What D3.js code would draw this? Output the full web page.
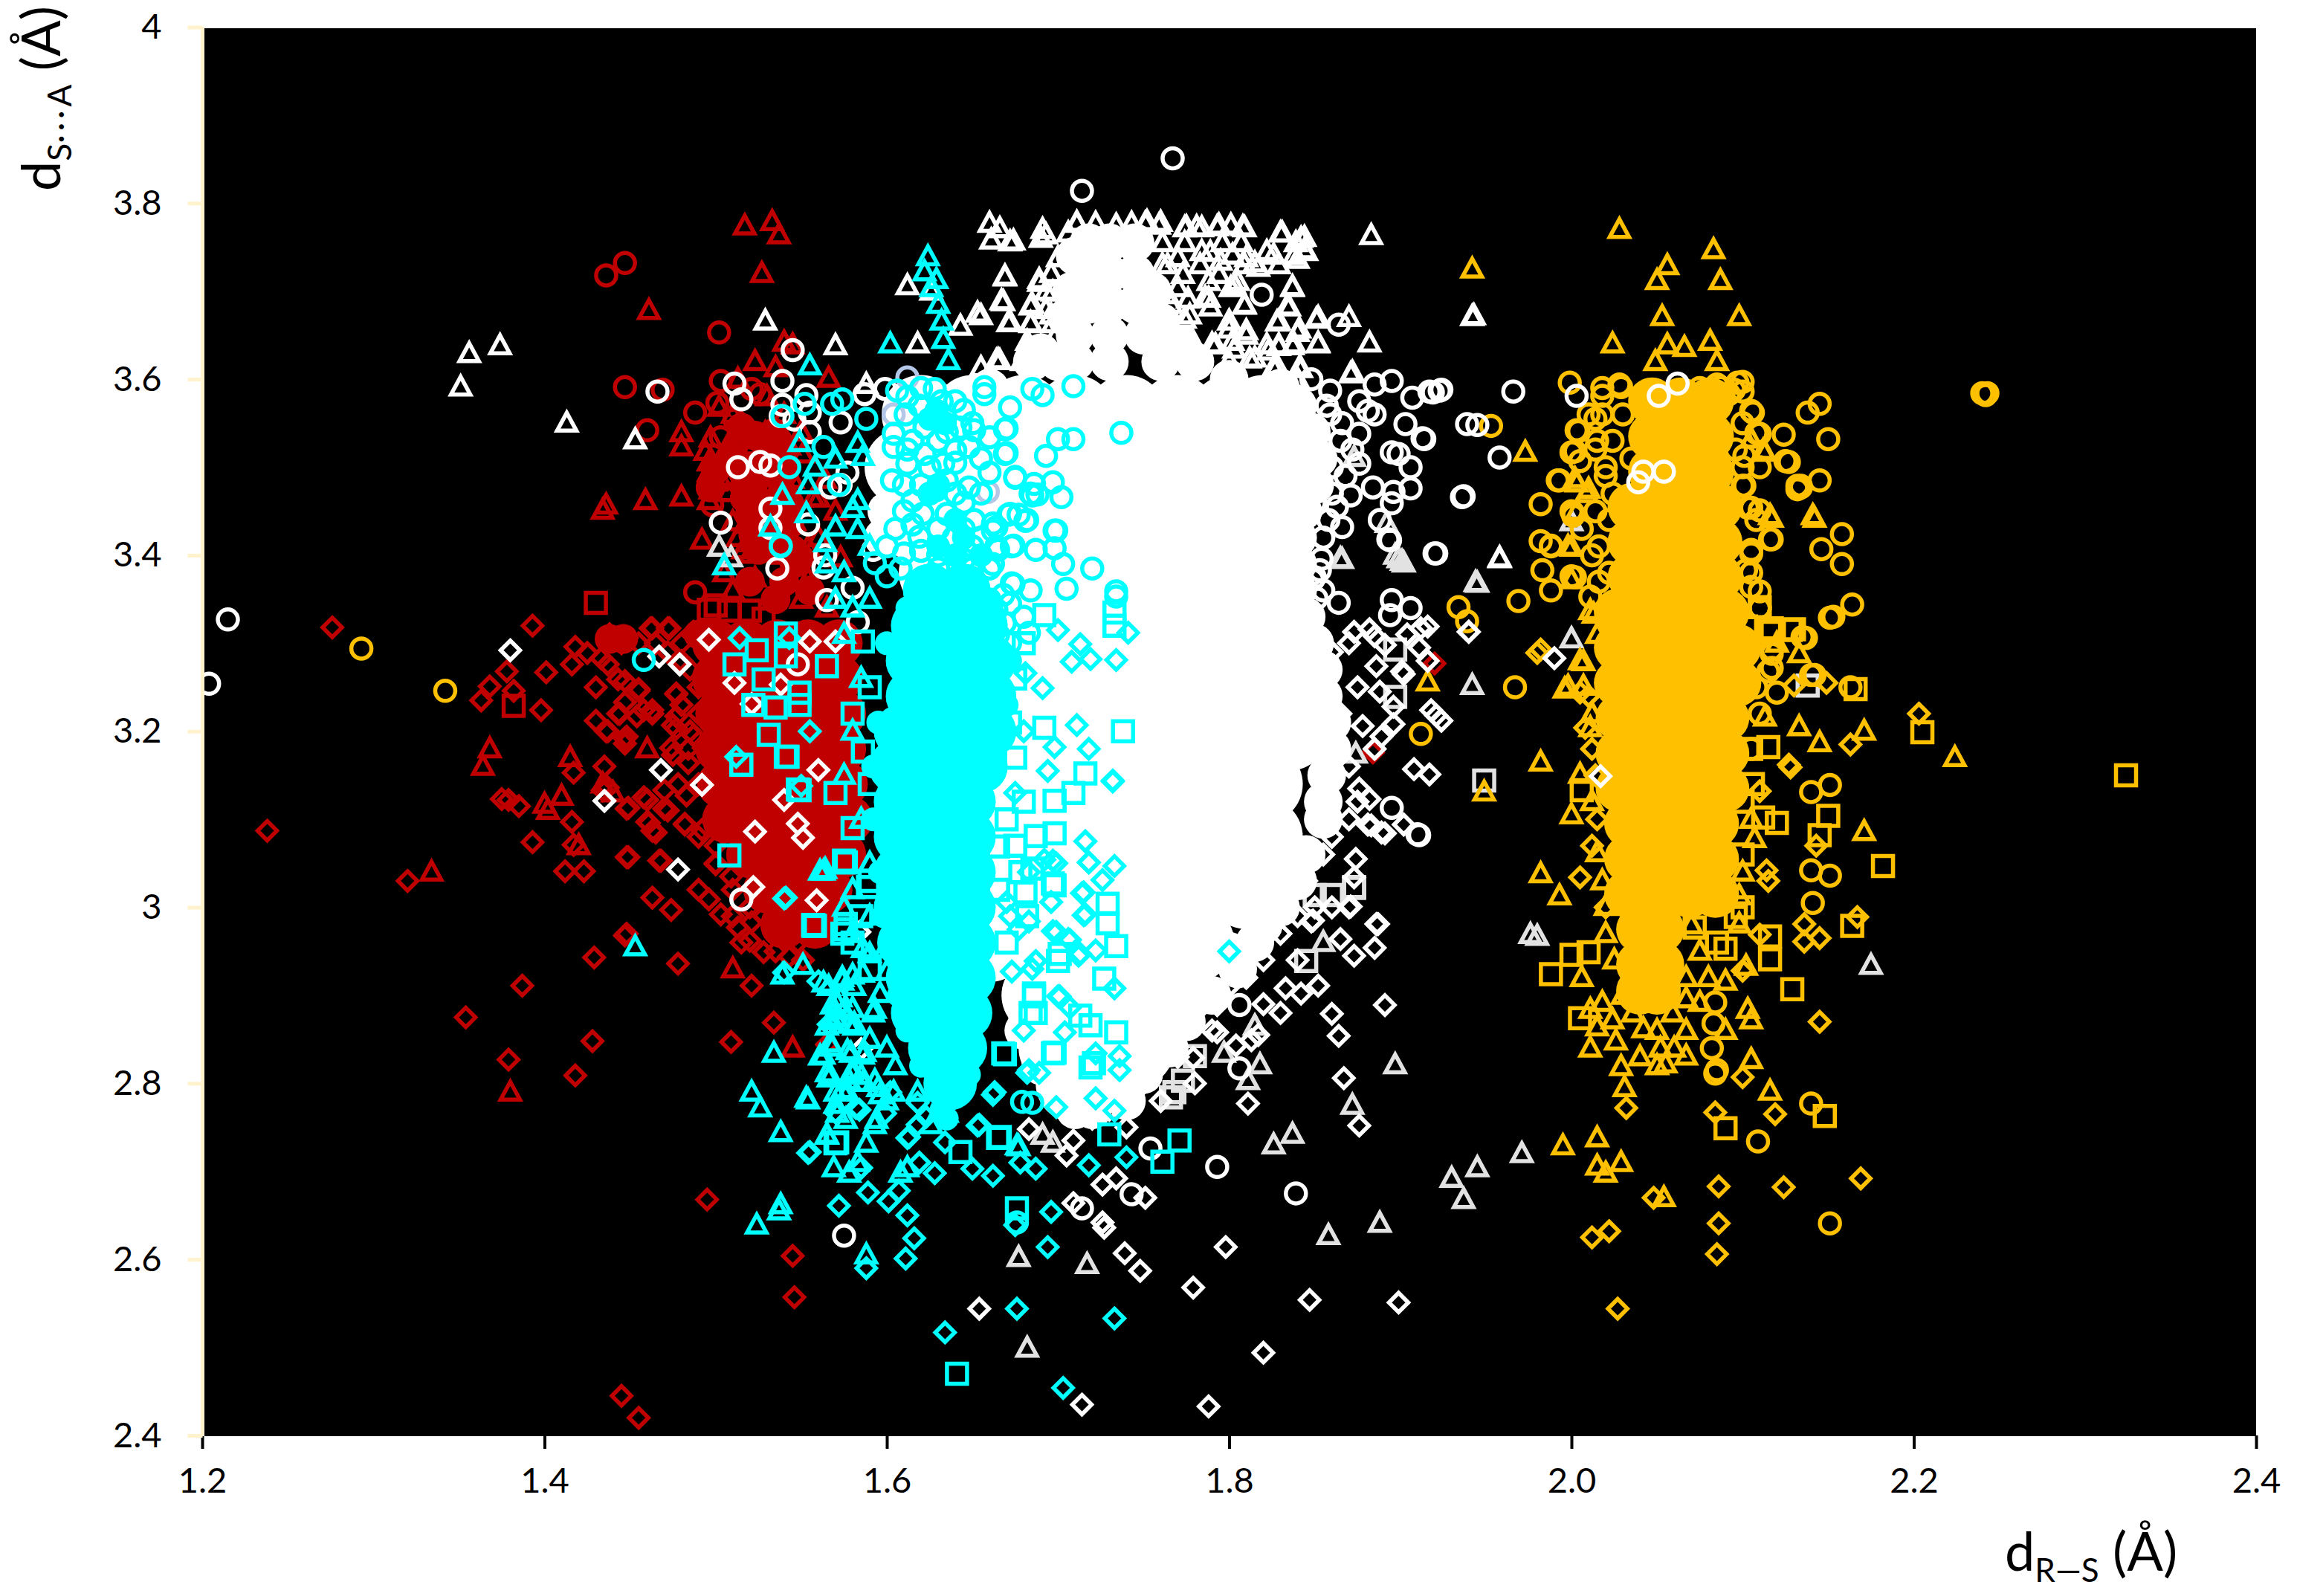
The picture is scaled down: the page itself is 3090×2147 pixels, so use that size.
<!DOCTYPE html>
<html><head><meta charset="utf-8">
<script src="https://cdn.jsdelivr.net/npm/d3@7/dist/d3.min.js"></script>
<style>html,body{margin:0;background:#fff}svg{display:block}text{font-family:Lato,"Noto Sans",sans-serif;fill:#000}</style>
</head><body><svg id="c" width="3090" height="2147"></svg>
<script>
const xTicks=[1.2,1.4,1.6,1.8,2.0,2.2,2.4];
const yTicks=[2.4,2.6,2.8,3,3.2,3.4,3.6,3.8,4];
// saturated areas, where overlapping markers merge into solid colour
const redCore=[[1.5,3.3],[1.518,3.3],[1.536,3.3],[1.554,3.3],[1.572,3.3],[1.5,3.26],[1.518,3.26],[1.536,3.26],[1.554,3.26],[1.572,3.26],[1.502,3.22],[1.52,3.22],[1.538,3.22],[1.556,3.22],[1.574,3.22],[1.502,3.18],[1.52,3.18],[1.538,3.18],[1.556,3.18],[1.574,3.18],[1.503,3.14],[1.521,3.14],[1.539,3.14],[1.557,3.14],[1.575,3.14],[1.506,3.1],[1.524,3.1],[1.542,3.1],[1.56,3.1],[1.578,3.1],[1.52,3.06],[1.538,3.06],[1.556,3.06],[1.574,3.06],[1.53,3.02],[1.548,3.02],[1.566,3.02],[1.54,2.98],[1.558,2.98]];
const redPatches=[[1.438,3.305],[1.446,3.305],[1.49,3.31],[1.523,3.536],[1.534,3.539],[1.519,3.48],[1.522,3.471],[1.52,3.447],[1.522,3.5],[1.529,3.494],[1.545,3.406],[1.546,3.391],[1.543,3.435],[1.525,3.406],[1.537,3.524],[1.5,3.497],[1.497,3.477],[1.549,3.397],[1.539,3.471],[1.54,3.494],[1.516,3.494],[1.517,3.465],[1.543,3.459],[1.522,3.423],[1.515,3.545],[1.53,3.515],[1.51,3.515],[1.53,3.45],[1.53,3.43],[1.535,3.41],[1.52,3.37],[1.54,3.37],[1.555,3.36],[1.535,3.35]];
const goldCore=[[2.047,3.575],[2.064,3.575],[2.081,3.575],[2.047,3.535],[2.064,3.535],[2.081,3.535],[2.047,3.495],[2.064,3.495],[2.081,3.495],[2.035,3.455],[2.052,3.455],[2.069,3.455],[2.086,3.455],[2.035,3.415],[2.052,3.415],[2.069,3.415],[2.086,3.415],[2.035,3.375],[2.052,3.375],[2.069,3.375],[2.086,3.375],[2.027,3.335],[2.045,3.335],[2.063,3.335],[2.081,3.335],[2.09,3.335],[2.027,3.295],[2.045,3.295],[2.063,3.295],[2.081,3.295],[2.097,3.295],[2.027,3.255],[2.045,3.255],[2.063,3.255],[2.081,3.255],[2.097,3.255],[2.028,3.215],[2.046,3.215],[2.064,3.215],[2.082,3.215],[2.09,3.215],[2.028,3.175],[2.046,3.175],[2.064,3.175],[2.082,3.175],[2.09,3.175],[2.028,3.135],[2.046,3.135],[2.064,3.135],[2.082,3.135],[2.09,3.135],[2.033,3.095],[2.051,3.095],[2.069,3.095],[2.084,3.095],[2.033,3.055],[2.051,3.055],[2.069,3.055],[2.084,3.055],[2.033,3.015],[2.051,3.015],[2.069,3.015],[2.084,3.015],[2.04,2.975],[2.052,2.975],[2.04,2.935],[2.052,2.935],[2.04,2.905],[2.05,2.905]];
const whiteCore=[[1.62,3.56],[1.65,3.56],[1.68,3.56],[1.71,3.56],[1.74,3.56],[1.77,3.56],[1.8,3.56],[1.82,3.56],[1.61,3.5],[1.64,3.5],[1.67,3.5],[1.7,3.5],[1.73,3.5],[1.76,3.5],[1.79,3.5],[1.82,3.5],[1.83,3.5],[1.615,3.44],[1.645,3.44],[1.675,3.44],[1.705,3.44],[1.735,3.44],[1.765,3.44],[1.795,3.44],[1.82,3.44],[1.63,3.38],[1.66,3.38],[1.69,3.38],[1.72,3.38],[1.75,3.38],[1.78,3.38],[1.81,3.38],[1.82,3.38],[1.64,3.32],[1.67,3.32],[1.7,3.32],[1.73,3.32],[1.76,3.32],[1.79,3.32],[1.825,3.32],[1.81,3.32],[1.64,3.26],[1.67,3.26],[1.7,3.26],[1.73,3.26],[1.76,3.26],[1.79,3.26],[1.82,3.26],[1.832,3.26],[1.64,3.2],[1.67,3.2],[1.7,3.2],[1.73,3.2],[1.76,3.2],[1.79,3.2],[1.82,3.2],[1.835,3.2],[1.64,3.14],[1.67,3.14],[1.7,3.14],[1.73,3.14],[1.76,3.14],[1.79,3.14],[1.82,3.14],[1.64,3.08],[1.67,3.08],[1.7,3.08],[1.73,3.08],[1.76,3.08],[1.79,3.08],[1.82,3.08],[1.64,3.02],[1.67,3.02],[1.7,3.02],[1.73,3.02],[1.76,3.02],[1.79,3.02],[1.81,3.02],[1.66,2.96],[1.69,2.96],[1.72,2.96],[1.75,2.96],[1.78,2.96],[1.69,2.9],[1.72,2.9],[1.75,2.9],[1.765,2.9],[1.7,2.84],[1.725,2.84],[1.745,2.84],[1.71,2.8]];
const whiteEdge=[[1.718,3.755],[1.73,3.755],[1.745,3.755],[1.718,3.72],[1.73,3.72],[1.745,3.72],[1.718,3.685],[1.73,3.685],[1.745,3.685],[1.71,3.65],[1.73,3.65],[1.75,3.65],[1.7,3.62],[1.71,3.62],[1.73,3.62],[1.76,3.62],[1.78,3.62],[1.69,3.63],[1.66,3.59],[1.8,3.6],[1.83,3.59],[1.84,3.57],[1.848,3.54],[1.852,3.51],[1.85,3.48],[1.843,3.45],[1.84,3.42],[1.84,3.39],[1.84,3.36],[1.845,3.33],[1.85,3.3],[1.855,3.27],[1.855,3.24],[1.86,3.21],[1.86,3.18],[1.857,3.15],[1.855,3.12],[1.855,3.1],[1.845,3.06],[1.84,3.03],[1.83,3],[1.82,2.98],[1.815,2.96],[1.805,2.93],[1.8,2.95],[1.79,2.9],[1.78,2.91],[1.775,2.87],[1.76,2.88],[1.765,2.84],[1.75,2.81],[1.74,2.78],[1.73,2.79],[1.72,2.77],[1.71,2.77],[1.7,2.79],[1.69,2.82],[1.68,2.86],[1.6,3.45],[1.598,3.42],[1.71,3.74],[1.708,3.7],[1.705,3.67],[1.755,3.7],[1.76,3.665],[1.77,3.64],[1.685,3.62]];
const cyanCore=[[1.625,3.36],[1.645,3.36],[1.618,3.32],[1.638,3.32],[1.655,3.32],[1.615,3.28],[1.637,3.28],[1.66,3.28],[1.615,3.24],[1.637,3.24],[1.66,3.24],[1.608,3.2],[1.628,3.2],[1.648,3.2],[1.66,3.2],[1.605,3.16],[1.625,3.16],[1.645,3.16],[1.655,3.16],[1.608,3.12],[1.628,3.12],[1.648,3.12],[1.608,3.08],[1.628,3.08],[1.648,3.08],[1.608,3.04],[1.628,3.04],[1.648,3.04],[1.608,3.0],[1.628,3.0],[1.648,3.0],[1.61,2.96],[1.63,2.96],[1.648,2.96],[1.615,2.92],[1.632,2.92],[1.648,2.92],[1.618,2.88],[1.632,2.88],[1.646,2.88],[1.628,2.84],[1.643,2.84],[1.637,2.8]];
const cyanPatches=[[1.629,3.564],[1.625,3.555],[1.634,3.55],[1.63,3.48],[1.625,3.47],[1.64,3.44],[1.645,3.42],[1.63,3.41],[1.655,3.4],[1.64,3.4],[1.612,3.34],[1.6,3.3],[1.595,3.21],[1.592,3.16],[1.592,3.1],[1.596,3.04],[1.598,2.99],[1.604,2.95],[1.607,2.9],[1.612,2.86],[1.62,2.82],[1.648,2.81],[1.632,2.77],[1.66,3.35],[1.672,3.28],[1.67,3.23],[1.635,2.76]];

const redDiamonds=[[1.393,3.32],[1.418,3.296],[1.425,3.289],[1.416,3.276],[1.401,3.267],[1.378,3.268],[1.368,3.251],[1.382,3.246],[1.363,3.235],[1.398,3.224],[1.433,3.283],[1.438,3.31],[1.447,3.306],[1.462,3.317],[1.472,3.317],[1.43,3.25],[1.443,3.259],[1.455,3.246],[1.447,3.233],[1.443,3.22],[1.43,3.212],[1.436,3.2],[1.448,3.194],[1.447,3.186],[1.458,3.224],[1.463,3.22],[1.477,3.242],[1.475,3.207],[1.475,3.173],[1.435,3.16],[1.417,3.153],[1.375,3.123],[1.379,3.122],[1.385,3.115],[1.437,3.136],[1.458,3.125],[1.448,3.112],[1.47,3.112],[1.46,3.097],[1.463,3.087],[1.482,3.095],[1.416,3.097],[1.417,3.071],[1.393,3.074],[1.238,3.087],[1.32,3.03],[1.448,3.057],[1.467,3.053],[1.412,3.041],[1.423,3.041],[1.463,3.011],[1.474,2.997],[1.49,3.02],[1.496,3.009],[1.503,2.992],[1.513,2.977],[1.521,2.983],[1.528,2.99],[1.54,2.983],[1.52,2.962],[1.528,2.949],[1.54,2.962],[1.543,2.944],[1.551,2.94],[1.447,2.968],[1.448,2.97],[1.429,2.943],[1.478,2.936],[1.521,2.911],[1.387,2.911],[1.354,2.875],[1.428,2.848],[1.509,2.847],[1.534,2.869],[1.379,2.827],[1.418,2.809],[1.565,2.844],[1.495,2.668],[1.545,2.604],[1.546,2.557],[1.445,2.445],[1.455,2.42],[1.276,3.318],[1.92,3.277],[1.884,3.176],[1.48,3.28],[1.485,3.2],[1.478,3.14],[1.49,3.08],[1.5,3.05],[1.438,3.31],[1.448,3.306],[1.463,3.317],[1.473,3.317],[1.487,3.313],[1.437,3.276],[1.447,3.257],[1.455,3.248],[1.444,3.22],[1.437,3.2],[1.447,3.192],[1.454,3.217],[1.463,3.224],[1.477,3.243],[1.477,3.217],[1.477,3.203],[1.474,3.181],[1.487,3.195],[1.493,3.181],[1.484,3.164],[1.47,3.133],[1.46,3.122],[1.449,3.113],[1.472,3.11],[1.483,3.127],[1.461,3.096],[1.465,3.085],[1.482,3.094],[1.449,3.057],[1.468,3.053],[1.5,3.049],[1.509,3.035],[1.492,3.088],[1.434,3.133],[1.445,3.3],[1.455,3.3],[1.465,3.3],[1.48,3.3],[1.472,3.29],[1.485,3.27],[1.48,3.23],[1.49,3.25],[1.49,3.22],[1.484,3.18],[1.49,3.14],[1.5,3.07],[1.51,3.02],[1.52,3.0],[1.51,2.99],[1.515,2.96],[1.535,2.95],[1.548,2.96],[1.553,2.98]];
const redTriangles=[[1.517,3.774],[1.533,3.779],[1.537,3.764],[1.527,3.72],[1.461,3.678],[1.54,3.642],[1.545,3.639],[1.523,3.62],[1.535,3.613],[1.566,3.601],[1.513,3.6],[1.502,3.568],[1.48,3.539],[1.48,3.523],[1.497,3.533],[1.494,3.518],[1.497,3.509],[1.496,3.494],[1.497,3.474],[1.496,3.462],[1.48,3.466],[1.459,3.462],[1.436,3.457],[1.434,3.451],[1.492,3.417],[1.52,3.456],[1.517,3.435],[1.521,3.414],[1.52,3.401],[1.523,3.374],[1.54,3.376],[1.554,3.373],[1.573,3.397],[1.546,3.412],[1.554,3.409],[1.542,3.444],[1.56,3.465],[1.522,3.524],[1.507,3.524],[1.529,3.539],[1.537,3.533],[1.522,3.494],[1.529,3.488],[1.514,3.486],[1.545,3.486],[1.539,3.494],[1.368,3.18],[1.364,3.16],[1.402,3.11],[1.415,3.17],[1.46,3.18],[1.38,2.79],[1.334,3.04],[1.51,2.93],[1.42,3.07],[1.4,3.117],[1.41,3.126],[1.434,3.14],[1.44,3.13],[1.545,2.84],[1.507,3.471],[1.5,3.483],[1.496,3.506],[1.543,3.524],[1.551,3.515],[1.557,3.465],[1.564,3.486],[1.546,3.438],[1.529,3.406],[1.537,3.4],[1.516,3.406],[1.513,3.42],[1.51,3.438],[1.528,3.438],[1.51,3.56],[1.53,3.58],[1.54,3.56],[1.55,3.54],[1.505,3.38],[1.51,3.36],[1.56,3.42],[1.57,3.45],[1.55,3.35],[1.565,3.34]];
const redCircles=[[1.447,3.732],[1.436,3.718],[1.502,3.653],[1.447,3.591],[1.469,3.588],[1.46,3.542],[1.488,3.562],[1.503,3.598],[1.501,3.573],[1.511,3.554],[1.503,3.534],[1.521,3.589],[1.526,3.583],[1.498,3.457],[1.505,3.486],[1.488,3.358]];
const redSquares=[[1.43,3.346],[1.382,3.229],[1.5,3.343],[1.496,3.338],[1.508,3.337],[1.52,3.337],[1.528,3.328]];

const greyTriangles=[[1.892,3.436],[1.873,3.511],[1.866,3.395],[1.902,3.391],[1.899,3.396],[1.945,3.368],[1.865,3.396],[1.897,3.4],[1.901,3.393],[1.944,3.369],[1.942,3.252],[1.874,3.174],[1.897,2.821],[1.872,2.775],[1.826,2.73],[1.837,2.742],[1.93,2.692],[1.945,2.704],[1.937,2.668],[1.888,2.641],[1.858,2.627],[1.818,2.821],[1.811,2.803],[1.677,2.602],[1.717,2.594],[1.682,2.499],[1.691,2.741],[1.697,2.732],[1.855,2.96],[1.815,2.865],[1.797,2.834],[1.502,3.409],[1.509,3.397],[1.976,2.969],[1.98,2.967],[2.175,2.934],[1.971,2.72],[2,3.305],[2,3.438]];
const greySquares=[[1.897,3.293],[1.897,3.239],[1.949,3.144],[1.873,3.023],[1.86,3.014],[1.85,3.014],[1.766,2.784],[1.768,2.79],[1.678,2.865],[1.68,2.87],[1.873,3.022],[1.78,2.831],[1.773,2.803],[1.845,2.939],[2.138,3.252]];

const goldTriangles=[[2.028,3.77],[1.942,3.725],[2.056,3.729],[2.05,3.712],[2.083,3.747],[2.087,3.712],[2.053,3.671],[2.098,3.671],[2.024,3.64],[2.056,3.639],[2.066,3.636],[2.081,3.643],[2.085,3.62],[2.049,3.62],[1.973,3.517],[2.112,3.519],[2.116,3.445],[2.141,3.445],[2.002,3.487],[2.01,3.475],[2.003,3.45],[1.998,3.41],[2.011,3.337],[2.005,3.28],[1.996,3.248],[1.916,3.256],[2.133,3.205],[2.145,3.187],[2.171,3.2],[2.224,3.17],[2.113,3.216],[1.982,3.165],[1.949,3.131],[2.005,3.151],[2,3.105],[2.011,3.204],[2.171,3.086],[1.982,3.038],[1.993,3.013],[2.018,3.03],[2.015,3.062],[2.02,3.001],[2.107,3.078],[2.098,3.013],[2.098,2.981],[2.006,2.92],[2.08,2.92],[2.09,2.916],[2.067,2.92],[2.102,2.933],[2.011,2.884],[2.018,2.892],[2.015,2.864],[2.024,2.872],[2.011,2.84],[2.026,2.848],[2.059,2.88],[2.067,2.86],[2.075,2.892],[2.067,2.896],[2.105,2.827],[2.052,2.84],[2.067,2.831],[2.103,2.884],[2.105,2.872],[2.029,2.819],[2.031,2.795],[2.116,2.791],[1.995,2.729],[2.015,2.738],[2.029,2.71],[2.015,2.706],[2.02,2.698],[2.054,2.67],[2.03,2.9],[2.042,2.862],[2.05,2.86],[2.036,2.88],[2.06,2.84],[2.04,2.83],[2.05,2.82],[2.055,2.822],[2.09,2.86],[2.12,3.3],[2.003,3.482],[2.009,3.47],[2,3.409],[2,3.372],[2.013,3.333],[2.007,3.279],[2.105,3.532],[2.113,3.517],[2.117,3.442],[2.142,3.442],[2.133,3.288],[1.998,3.251],[2.007,3.251],[2.015,3.31],[2.012,3.22],[2.012,3.12],[2.105,3.1],[2.1,3.04],[2.02,2.97],[2.025,2.94],[2.075,2.95],[2.07,2.98]];
const goldCircles=[[1.999,3.596],[2.018,3.59],[2.028,3.594],[2.138,3.562],[2.145,3.572],[2.124,3.537],[2.15,3.532],[2.125,3.507],[2.132,3.479],[2.132,3.475],[2.145,3.485],[2.108,3.539],[2.105,3.564],[2.097,3.596],[2.085,3.594],[2.075,3.59],[2.003,3.542],[2,3.517],[1.992,3.485],[1.982,3.458],[2,3.45],[1.982,3.416],[1.988,3.41],[1.983,3.383],[2,3.376],[1.988,3.36],[1.969,3.348],[1.934,3.341],[1.939,3.325],[1.953,3.547],[1.967,3.25],[1.912,3.197],[2.011,3.353],[2.158,3.424],[2.146,3.407],[2.158,3.39],[2.116,3.418],[2.103,3.454],[2.1,3.479],[2.105,3.406],[2.164,3.344],[2.151,3.329],[2.135,3.307],[2.117,3.293],[2.115,3.268],[2.14,3.264],[2.163,3.25],[2.12,3.244],[2.14,3.131],[2.151,3.139],[2.14,3.042],[2.151,3.036],[2.141,3.005],[2.14,2.777],[2.109,2.734],[2.151,2.641],[2.083,2.868],[2.082,2.84],[2.084,2.811],[2.085,2.815],[2.084,2.892],[2.24,3.584],[2.242,3.582],[2.243,3.584],[1.293,3.294],[1.342,3.246],[2.01,3.56],[2.014,3.52],[2.02,3.49],[2.11,3.5],[2.108,3.44],[2.105,3.38],[2.11,3.34],[2.006,3.43],[2.012,3.4],[2.018,3.581],[2.029,3.591],[2.075,3.579],[2.087,3.591],[2.1,3.597],[2.095,3.588],[2.1,3.586],[2.092,3.583],[2.106,3.562],[2.11,3.538],[2.127,3.506],[2.134,3.477],[2.134,3.479],[2.014,3.555],[2.004,3.541],[2.002,3.518],[2.005,3.507],[1.993,3.485],[2.001,3.448],[2.001,3.445],[1.988,3.411],[2.002,3.375],[2.101,3.513],[2.101,3.479],[2.105,3.454],[2.11,3.451],[2.117,3.418],[2.105,3.402],[2.102,3.383],[2.105,3.364],[2.11,3.359],[2.11,3.34],[2.137,3.306],[2.153,3.33],[2.142,3.264],[2.117,3.272],[2.117,3.288],[2.018,3.56],[2.024,3.53],[2.015,3.53],[2.02,3.5],[2.03,3.56],[2.035,3.51],[2.1,3.55],[2.096,3.52],[2.1,3.5],[2.024,3.47],[2.014,3.45],[2.022,3.44],[2.016,3.41],[2.022,3.38],[2.016,3.37],[2.108,3.25],[2.11,3.22],[2.105,3.18]];
const goldDiamonds=[[2.203,3.22],[2.163,3.185],[2.127,3.162],[2.128,3.159],[2.11,3.132],[2.143,3.07],[2.114,3.042],[2.115,3.03],[2.136,2.981],[2.145,2.965],[2.136,2.961],[2.167,2.989],[2.1,2.807],[2.119,2.765],[2.084,2.767],[2.145,2.87],[2.032,2.772],[2.005,3.034],[1.98,3.289],[1.982,3.293],[2.149,3.255],[2.13,3.252],[2.169,2.692],[2.124,2.682],[2.086,2.683],[2.048,2.67],[2.086,2.641],[2.012,2.625],[2.022,2.632],[2.085,2.606],[2.027,2.544],[2.005,3.244],[2.11,2.969],[2.1,2.928],[2.008,3.204],[2.012,3.18],[2.015,3.1],[2.01,3.24],[2.014,3.15],[2.012,3.07],[2.02,3.0]];
const goldSquares=[[2.324,3.15],[2.205,3.199],[2.182,3.047],[2.166,3.248],[2.128,3.315],[2.117,3.317],[2.11,3.341],[2.115,3.182],[2.112,3.102],[2.12,3.096],[2.15,3.104],[2.145,3.082],[2.164,2.979],[2.116,2.967],[2.116,2.941],[2.129,2.907],[2.148,2.763],[2.09,2.749],[1.988,2.924],[2,2.946],[2.01,2.949],[2.005,2.874],[2.006,3.133],[2.09,2.953],[2.096,2.989],[2.072,2.977],[2.054,2.912],[2.105,3.18],[2.1,3.12],[2.1,3.06],[2.13,3.316],[2.102,3.319],[2.116,3.313],[2.106,3.14],[2.1,3.0],[2.085,2.96]];

const whiteCircles=[[1.545,3.633],[1.539,3.598],[1.511,3.595],[1.515,3.577],[1.539,3.571],[1.553,3.582],[1.538,3.558],[1.555,3.562],[1.555,3.54],[1.573,3.551],[1.546,3.554],[1.466,3.586],[1.513,3.5],[1.526,3.506],[1.532,3.502],[1.503,3.437],[1.532,3.453],[1.532,3.431],[1.554,3.435],[1.536,3.385],[1.564,3.4],[1.563,3.386],[1.567,3.477],[1.573,3.48],[1.577,3.494],[1.58,3.363],[1.599,3.589],[1.587,3.583],[1.592,3.406],[1.204,3.254],[1.215,3.327],[1.714,3.814],[1.767,3.851],[1.515,3.009],[1.565,3.349],[1.548,3.276],[1.583,3.324],[1.848,3.6],[1.859,3.587],[1.876,3.575],[1.885,3.594],[1.895,3.598],[1.907,3.579],[1.923,3.587],[1.919,3.585],[1.859,3.56],[1.881,3.564],[1.885,3.56],[1.903,3.549],[1.914,3.532],[1.876,3.538],[1.895,3.517],[1.899,3.515],[1.906,3.5],[1.876,3.504],[1.884,3.477],[1.906,3.476],[1.896,3.472],[1.937,3.467],[1.871,3.468],[1.895,3.459],[1.888,3.44],[1.866,3.432],[1.921,3.402],[1.894,3.417],[1.863,3.455],[1.853,3.383],[1.849,3.372],[1.864,3.346],[1.895,3.349],[1.906,3.34],[1.894,3.332],[1.939,3.549],[1.864,3.662],[1.819,3.696],[1.893,3.418],[1.92,3.402],[1.854,3.396],[1.85,3.375],[1.851,3.351],[1.895,3.113],[1.91,3.083],[1.793,2.705],[1.839,2.675],[1.743,2.674],[1.754,2.726],[1.806,2.817],[1.806,2.889],[1.575,2.627],[1.714,2.658],[2.051,3.581],[2.062,3.595],[2.042,3.495],[2.054,3.495],[2.039,3.483],[2.003,3.581],[1.966,3.586],[1.924,3.588],[1.917,3.586],[1.945,3.548],[1.913,3.533],[1.958,3.511],[1.936,3.466],[1.911,3.082],[1.86,3.5],[1.865,3.53],[1.85,3.46],[1.855,3.42],[1.857,3.57],[1.866,3.55],[1.872,3.52],[1.868,3.49],[1.86,3.47],[1.858,3.44],[1.855,3.36]];
const whiteTriangles=[[1.883,3.763],[1.66,3.777],[1.666,3.771],[1.661,3.758],[1.672,3.756],[1.69,3.76],[1.691,3.77],[1.711,3.777],[1.722,3.777],[1.734,3.775],[1.743,3.777],[1.751,3.777],[1.759,3.775],[1.775,3.773],[1.781,3.773],[1.793,3.773],[1.801,3.775],[1.808,3.773],[1.83,3.766],[1.842,3.76],[1.822,3.745],[1.838,3.741],[1.845,3.745],[1.669,3.717],[1.612,3.706],[1.626,3.7],[1.689,3.713],[1.696,3.72],[1.693,3.7],[1.667,3.689],[1.653,3.675],[1.655,3.672],[1.643,3.66],[1.671,3.664],[1.684,3.683],[1.684,3.664],[1.682,3.643],[1.696,3.673],[1.698,3.647],[1.664,3.621],[1.666,3.621],[1.679,3.621],[1.655,3.613],[1.618,3.64],[1.57,3.638],[1.529,3.666],[1.588,3.594],[1.761,3.73],[1.77,3.738],[1.784,3.745],[1.795,3.734],[1.809,3.73],[1.829,3.73],[1.815,3.732],[1.837,3.704],[1.805,3.711],[1.788,3.711],[1.77,3.704],[1.788,3.692],[1.801,3.704],[1.809,3.685],[1.834,3.683],[1.829,3.666],[1.851,3.668],[1.87,3.67],[1.84,3.653],[1.8,3.666],[1.81,3.655],[1.852,3.641],[1.882,3.641],[1.829,3.639],[1.837,3.638],[1.822,3.639],[1.802,3.643],[1.792,3.639],[1.768,3.643],[1.841,3.613],[1.871,3.606],[1.826,3.613],[1.815,3.624],[1.766,3.685],[1.759,3.666],[1.777,3.673],[1.943,3.672],[1.413,3.55],[1.453,3.531],[1.351,3.591],[1.356,3.629],[1.374,3.638],[1.958,3.397],[1.942,3.671],[1.958,3.396],[1.8,3.62],[1.78,3.62],[1.76,3.62],[1.84,3.6],[1.794,3.775],[1.809,3.772],[1.831,3.766],[1.839,3.755],[1.844,3.761],[1.844,3.747],[1.84,3.736],[1.826,3.741],[1.817,3.727],[1.81,3.738],[1.802,3.741],[1.789,3.744],[1.784,3.772],[1.774,3.772],[1.76,3.778],[1.752,3.779],[1.837,3.705],[1.803,3.707],[1.809,3.684],[1.786,3.693],[1.789,3.682],[1.835,3.682],[1.828,3.665],[1.841,3.657],[1.852,3.67],[1.852,3.64],[1.838,3.64],[1.829,3.637],[1.81,3.65],[1.8,3.657],[1.823,3.632],[1.842,3.612],[1.828,3.615],[1.872,3.608],[1.774,3.668],[1.761,3.657],[1.778,3.646],[1.79,3.64],[1.803,3.634],[1.812,3.623],[1.773,3.719],[1.764,3.73],[1.783,3.73],[1.794,3.719],[1.761,3.755],[1.774,3.755],[1.796,3.755],[1.807,3.755],[1.764,3.696],[1.776,3.691],[1.693,3.764],[1.674,3.757],[1.669,3.716],[1.668,3.688],[1.672,3.665],[1.685,3.685],[1.689,3.71],[1.7,3.738],[1.684,3.663],[1.683,3.639],[1.665,3.622],[1.679,3.62],[1.706,3.766],[1.711,3.778],[1.697,3.699],[1.693,3.679],[1.697,3.663],[1.69,3.637]];
const whiteDiamonds=[[1.38,3.292],[1.467,3.285],[1.479,3.276],[1.496,3.304],[1.511,3.255],[1.521,3.231],[1.468,3.156],[1.492,3.139],[1.435,3.121],[1.478,3.043],[1.523,3.086],[1.522,3.023],[1.559,3.008],[1.54,3.122],[1.548,3.095],[1.551,3.079],[1.56,3.156],[1.538,3.253],[1.555,3.302],[1.57,3.302],[1.584,2.972],[1.585,2.839],[1.873,3.313],[1.882,3.316],[1.885,3.308],[1.891,3.298],[1.916,3.319],[1.912,3.317],[1.904,3.31],[1.911,3.295],[1.916,3.28],[1.886,3.274],[1.902,3.265],[1.901,3.268],[1.888,3.245],[1.896,3.228],[1.896,3.208],[1.918,3.224],[1.924,3.212],[1.921,3.218],[1.889,3.194],[1.885,3.18],[1.878,3.206],[1.876,3.135],[1.882,3.123],[1.908,3.157],[1.917,3.151],[1.881,3.094],[1.889,3.085],[1.902,3.094],[1.874,3.055],[1.873,3.034],[1.87,3],[1.886,2.981],[1.848,2.984],[1.94,3.313],[1.99,3.283],[1.891,3.084],[1.883,3.093],[1.871,3.001],[1.887,2.981],[1.885,2.954],[1.873,2.945],[1.865,2.964],[1.849,2.985],[1.852,2.911],[1.842,2.902],[1.833,2.908],[1.83,2.88],[1.86,2.879],[1.864,2.854],[1.891,2.889],[1.867,2.806],[1.876,2.752],[1.811,2.777],[1.793,2.889],[1.804,2.843],[1.813,2.849],[1.817,2.855],[1.793,2.858],[1.779,2.829],[1.709,2.735],[1.705,2.718],[1.683,2.748],[1.726,2.685],[1.734,2.692],[1.751,2.67],[1.709,2.664],[1.726,2.642],[1.727,2.636],[1.739,2.607],[1.748,2.587],[1.779,2.568],[1.798,2.614],[1.847,2.554],[1.899,2.551],[1.82,2.494],[1.788,2.433],[1.714,2.435],[1.654,2.544],[2.017,3.149],[1.94,3.313],[1.86,3.29],[1.865,3.22],[1.87,3.16],[1.855,3.06],[1.845,3.03],[1.83,2.97],[1.81,2.92],[1.78,2.88],[1.76,2.84],[1.74,2.79],[1.72,2.76],[1.74,2.75],[1.76,2.78],[1.78,2.8],[1.82,2.89],[1.84,2.94],[1.86,3.0],[1.87,3.1],[1.87,3.3],[1.875,3.25],[1.875,3.12],[1.86,3.08],[1.85,3.0],[1.84,2.99],[1.82,2.94],[1.8,2.91],[1.79,2.86],[1.77,2.83],[1.75,2.8],[1.73,2.77]];

const lavenderCircles=[[1.659,3.472],[1.612,3.602],[1.604,3.56]];

const cyanCircles=[[1.657,3.591],[1.657,3.583],[1.709,3.592],[1.685,3.589],[1.691,3.582],[1.672,3.568],[1.669,3.543],[1.64,3.575],[1.628,3.589],[1.619,3.57],[1.629,3.564],[1.737,3.539],[1.709,3.532],[1.7,3.532],[1.693,3.513],[1.669,3.515],[1.651,3.542],[1.66,3.534],[1.648,3.523],[1.64,3.519],[1.633,3.504],[1.66,3.494],[1.675,3.489],[1.686,3.481],[1.697,3.483],[1.685,3.468],[1.702,3.466],[1.648,3.477],[1.612,3.504],[1.603,3.485],[1.604,3.523],[1.604,3.538],[1.611,3.56],[1.606,3.587],[1.574,3.577],[1.568,3.572],[1.552,3.572],[1.539,3.558],[1.588,3.555],[1.563,3.523],[1.543,3.5],[1.538,3.411],[1.672,3.447],[1.682,3.44],[1.698,3.428],[1.687,3.406],[1.698,3.408],[1.673,3.41],[1.703,3.39],[1.72,3.385],[1.705,3.362],[1.673,3.368],[1.734,3.359],[1.734,3.353],[1.662,3.436],[1.651,3.44],[1.635,3.447],[1.621,3.447],[1.615,3.462],[1.629,3.474],[1.619,3.421],[1.61,3.402],[1.6,3.376],[1.593,3.391],[1.669,3.323],[1.683,3.312],[1.664,3.338],[1.662,3.428],[1.665,3.406],[1.639,3.42],[1.65,3.41],[1.63,3.4],[1.645,3.395],[1.66,3.385],[1.64,3.47],[1.625,3.5],[1.615,3.53],[1.63,3.53],[1.62,3.48],[1.643,3.545],[1.458,3.281],[1.679,2.779],[1.685,2.778],[1.676,2.642],[1.538,3.41],[1.572,3.48],[1.684,3.36],[1.68,3.33],[1.67,3.544],[1.67,3.516],[1.675,3.488],[1.684,3.47],[1.688,3.469],[1.671,3.446],[1.677,3.446],[1.681,3.439],[1.699,3.428],[1.674,3.411],[1.664,3.432],[1.664,3.41],[1.674,3.367],[1.612,3.58],[1.62,3.59],[1.632,3.575],[1.645,3.565],[1.65,3.55],[1.635,3.54],[1.622,3.545],[1.612,3.52],[1.622,3.515],[1.64,3.505],[1.655,3.51],[1.61,3.48],[1.625,3.47],[1.635,3.485],[1.645,3.46],[1.655,3.47],[1.61,3.45],[1.605,3.43],[1.615,3.435],[1.63,3.43],[1.645,3.43],[1.655,3.42],[1.62,3.405],[1.6,3.41],[1.608,3.385],[1.63,3.385],[1.65,3.385],[1.668,3.355],[1.672,3.345],[1.665,3.31],[1.672,3.3],[1.662,3.39]];
const cyanTriangles=[[1.624,3.739],[1.622,3.722],[1.629,3.713],[1.626,3.704],[1.63,3.685],[1.632,3.666],[1.633,3.645],[1.602,3.64],[1.636,3.621],[1.555,3.615],[1.549,3.528],[1.57,3.509],[1.558,3.5],[1.554,3.48],[1.539,3.468],[1.553,3.447],[1.532,3.432],[1.57,3.432],[1.564,3.414],[1.583,3.429],[1.583,3.462],[1.58,3.453],[1.583,3.527],[1.586,3.512],[1.505,3.388],[1.534,2.834],[1.521,2.79],[1.526,2.772],[1.554,2.781],[1.538,2.744],[1.538,2.662],[1.537,2.655],[1.524,2.639],[1.588,2.605],[1.561,2.831],[1.565,2.865],[1.568,2.889],[1.567,2.809],[1.57,2.79],[1.578,2.803],[1.581,2.865],[1.579,2.834],[1.575,2.883],[1.563,2.914],[1.574,2.92],[1.571,2.766],[1.565,2.741],[1.593,2.753],[1.588,2.732],[1.569,2.704],[1.578,2.698],[1.583,2.71],[1.608,2.698],[1.612,2.704],[1.596,2.787],[1.604,2.79],[1.618,2.79],[1.563,3.041],[1.676,2.729],[1.635,2.766],[1.626,2.753],[1.585,2.809],[1.593,2.803],[1.453,2.955],[1.539,2.923],[1.551,2.934],[1.561,3.041],[1.553,2.783],[1.568,2.841],[1.578,2.867],[1.57,2.875],[1.586,2.832],[1.58,2.811],[1.574,2.793],[1.566,2.806],[1.593,2.884],[1.58,2.923],[1.573,2.897],[1.566,2.91],[1.586,2.953],[1.59,2.99],[1.58,3.02],[1.585,3.1],[1.575,3.38],[1.59,3.35],[1.57,3.35],[1.59,3.41],[1.6,2.84],[1.59,2.85],[1.605,2.82],[1.6,2.78],[1.564,3.043],[1.571,2.891],[1.58,2.885],[1.592,2.88],[1.568,2.871],[1.581,2.868],[1.567,2.846],[1.577,2.837],[1.587,2.835],[1.563,2.832],[1.565,2.812],[1.58,2.815],[1.586,2.801],[1.595,2.795],[1.577,2.79],[1.57,2.776],[1.594,2.759],[1.576,2.759],[1.565,2.742],[1.677,2.728],[1.581,2.91],[1.586,2.925],[1.574,2.916],[1.596,2.902],[1.6,2.927],[1.59,2.947],[1.599,2.953],[1.58,2.97],[1.575,3.0],[1.59,3.05],[1.575,3.15],[1.58,3.2],[1.585,3.26],[1.575,3.31],[1.58,3.34],[1.565,3.39]];
const cyanDiamonds=[[1.732,3.143],[1.716,3.075],[1.718,3.051],[1.733,3.047],[1.726,3.031],[1.714,3.016],[1.715,2.991],[1.697,2.973],[1.707,2.963],[1.722,2.951],[1.712,2.945],[1.697,3.053],[1.694,3.155],[1.718,3.18],[1.733,2.908],[1.7,2.899],[1.707,2.886],[1.704,2.858],[1.722,2.834],[1.736,2.831],[1.736,2.815],[1.682,2.812],[1.722,2.783],[1.733,2.769],[1.8,2.95],[1.74,2.716],[1.718,2.707],[1.687,2.703],[1.678,2.71],[1.662,2.695],[1.65,2.703],[1.628,2.698],[1.619,2.71],[1.612,2.738],[1.653,2.752],[1.662,2.787],[1.607,2.678],[1.601,2.666],[1.589,2.676],[1.612,2.65],[1.616,2.624],[1.611,2.601],[1.588,2.59],[1.572,2.661],[1.554,2.721],[1.696,2.654],[1.675,2.639],[1.694,2.614],[1.676,2.544],[1.733,2.533],[1.634,2.517],[1.703,2.454],[1.54,3.01],[1.54,2.926],[1.585,2.704],[1.618,2.753],[1.599,2.766],[1.582,2.772],[1.7,3.315],[1.741,3.312],[1.713,3.299],[1.708,3.279],[1.719,3.282],[1.734,3.281],[1.681,3.266],[1.691,3.249],[1.711,3.207],[1.698,3.182],[1.732,3.144],[1.514,3.306],[1.512,3.171],[1.541,3.011],[1.56,2.916],[1.543,3.306],[1.555,3.2],[1.55,3.138],[1.68,3.2],[1.675,3.13],[1.683,3.04],[1.672,2.99],[1.685,2.93],[1.68,2.86],[1.566,2.867],[1.602,2.79],[1.618,2.778],[1.623,2.762],[1.613,2.739],[1.584,2.77],[1.57,2.767],[1.555,2.722],[1.654,2.753],[1.634,2.733],[1.663,2.79],[1.683,2.815],[1.689,2.812],[1.699,2.773],[1.701,2.899],[1.716,2.992],[1.715,3.017],[1.699,2.972],[1.706,2.964],[1.713,2.947],[1.687,2.939],[1.677,2.975],[1.673,2.927],[1.67,3.006],[1.696,3.006],[1.683,2.984],[1.718,3.051],[1.699,3.05],[1.692,3.054]];
const cyanSquares=[[1.716,3.152],[1.698,3.121],[1.709,3.13],[1.698,3.084],[1.729,3.004],[1.729,2.982],[1.734,2.956],[1.698,3.025],[1.7,2.939],[1.727,2.919],[1.734,2.858],[1.719,2.866],[1.719,2.818],[1.697,2.834],[1.686,2.899],[1.684,2.88],[1.668,2.834],[1.665,2.738],[1.643,2.722],[1.73,2.742],[1.771,2.735],[1.761,2.711],[1.676,2.658],[1.641,2.47],[1.57,2.732],[1.557,2.979],[1.575,3.053],[1.574,2.97],[1.549,3.133],[1.542,3.171],[1.665,3.069],[1.687,3.081],[1.511,3.276],[1.524,3.292],[1.541,3.311],[1.541,3.285],[1.528,3.259],[1.522,3.23],[1.535,3.227],[1.549,3.23],[1.549,3.244],[1.531,3.196],[1.515,3.162],[1.541,3.171],[1.548,3.134],[1.508,3.059],[1.557,2.98],[1.576,2.975],[1.575,3.052],[1.565,3.274],[1.586,3.302],[1.586,3.177],[1.57,3.13],[1.692,3.332],[1.733,3.335],[1.733,3.32],[1.738,3.2],[1.692,3.204],[1.675,3.17],[1.68,3.12],[1.67,3.1],[1.678,3.04],[1.682,2.99],[1.67,2.96],[1.59,3.25],[1.58,3.22],[1.59,3.14],[1.58,3.09],[1.59,3.03],[1.585,2.99],[1.59,2.93],[1.58,2.96],[1.697,3.027],[1.685,3.044],[1.681,3.017],[1.701,2.947],[1.686,2.902],[1.687,2.88],[1.669,2.833],[1.666,2.739],[1.698,2.835],[1.721,2.823],[1.713,2.877],[1.558,2.979],[1.576,2.981],[1.589,3.023],[1.571,2.733],[1.576,3.051],[1.675,3.26],[1.68,3.3],[1.672,3.21],[1.675,3.07],[1.665,3.02]];

const x=d3.scaleLinear().domain([1.2,2.4]).range([272,3035]);
const y=d3.scaleLinear().domain([2.4,4]).range([1931,36.5]);
const svg=d3.select("#c");
svg.append("rect").attr("x",275).attr("y",38).attr("width",2760).attr("height",1894).attr("fill","#000");

const shape={
 circle:{draw(c){c.moveTo(13.5,0);c.arc(0,0,13.5,0,2*Math.PI);c.closePath();}},
 triangle:{draw(c){c.moveTo(0,-14);c.lineTo(13,10);c.lineTo(-13,10);c.closePath();}},
 diamond:{draw(c){c.moveTo(0,-13);c.lineTo(13,0);c.lineTo(0,13);c.lineTo(-13,0);c.closePath();}},
 square:{draw(c){c.moveTo(-13.5,-13.5);c.lineTo(13.5,-13.5);c.lineTo(13.5,13.5);c.lineTo(-13.5,13.5);c.closePath();}}
};
const plot=svg.append("g");
function core(pts,color,r){
 plot.append("g").selectAll("circle").data(pts).join("circle")
  .attr("cx",d=>x(d[0])).attr("cy",d=>y(d[1])).attr("r",r).attr("fill",color);
}
function marks(pts,type,color){
 const p=d3.symbol().type(shape[type])();
 plot.append("g").attr("fill","none").attr("stroke",color).attr("stroke-width",5.5)
  .selectAll("path").data(pts).join("path").attr("d",p)
  .attr("transform",d=>`translate(${x(d[0])},${y(d[1])})`);
}
const RED="#c00000",GOLD="#ffc000",WHITE="#ffffff",CYAN="#00ffff",GREY="#e2e2e2",LAV="#b4c7e7";
core(redCore,RED,32);core(redPatches,RED,20);
marks(redSquares,"square",RED);marks(redTriangles,"triangle",RED);marks(redDiamonds,"diamond",RED);marks(redCircles,"circle",RED);
marks(greySquares,"square",GREY);marks(greyTriangles,"triangle",GREY);
core(goldCore,GOLD,32);
marks(goldSquares,"square",GOLD);marks(goldDiamonds,"diamond",GOLD);marks(goldCircles,"circle",GOLD);marks(goldTriangles,"triangle",GOLD);
core(whiteCore,WHITE,53);core(whiteEdge,WHITE,26);
marks(whiteTriangles,"triangle",WHITE);marks(whiteDiamonds,"diamond",WHITE);marks(whiteCircles,"circle",WHITE);
marks(lavenderCircles,"circle",LAV);
core(cyanCore,CYAN,36);core(cyanPatches,CYAN,16);
marks(cyanTriangles,"triangle",CYAN);marks(cyanSquares,"square",CYAN);marks(cyanDiamonds,"diamond",CYAN);marks(cyanCircles,"circle",CYAN);

// axes
const ax=svg.append("g").attr("transform","translate(0,1931)")
 .call(d3.axisBottom(x).tickValues(xTicks).tickFormat(d3.format(".1f")).tickSize(18).tickPadding(26));
ax.select(".domain").remove();
ax.selectAll(".tick line").attr("stroke","#000").attr("stroke-width",4);
ax.selectAll("text").attr("font-size",47).attr("dy","0.71em");
const ay=svg.append("g").attr("transform","translate(272.5,0)")
 .call(d3.axisLeft(y).tickValues(yTicks).tickFormat(d3.format("~g")).tickSize(20).tickPadding(35));
ay.select(".domain").remove();
ay.selectAll(".tick line").attr("stroke","#fff2cc").attr("stroke-width",5);
ay.selectAll("text").attr("font-size",47);
svg.append("line").attr("x1",272.5).attr("x2",272.5).attr("y1",36).attr("y2",1932).attr("stroke","#fff2cc").attr("stroke-width",5);

// titles
const xt=svg.append("text").attr("x",2697).attr("y",2113).attr("font-size",72);
xt.append("tspan").text("d");
xt.append("tspan").attr("font-size",44).attr("dy",15).text("R—S");
xt.append("tspan").attr("dy",-15).text(" (Å)");
const yt=svg.append("text").attr("transform","translate(81,257) rotate(-90)").attr("font-size",72);
yt.append("tspan").text("d");
yt.append("tspan").attr("font-size",44).attr("dy",15).text("S");
yt.append("tspan").attr("font-size",44).attr("letter-spacing",5).text("···");
yt.append("tspan").attr("font-size",44).text("A");
yt.append("tspan").attr("dy",-15).text(" (Å)");
</script></body></html>
